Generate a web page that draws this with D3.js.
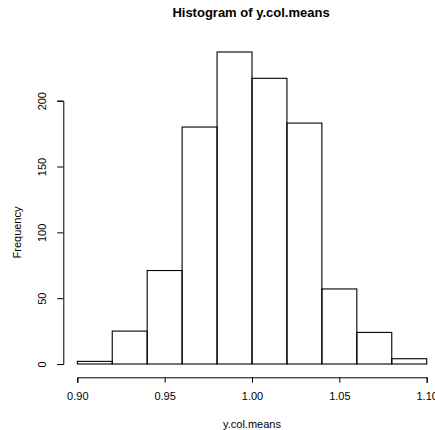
<!DOCTYPE html>
<html><head><meta charset="utf-8">
<script src="https://cdn.jsdelivr.net/npm/d3@7"></script>
<style>body{margin:0;background:#fff}svg{display:block}text{font-family:"Liberation Sans",Arial,sans-serif;fill:#000}</style>
</head><body>
<script>
const binStarts = [0.90,0.92,0.94,0.96,0.98,1.00,1.02,1.04,1.06,1.08];
const binWidth = 0.02;
const counts = [2,25,71,180,237,217,183,57,24,4];
const xTicks = [0.90,0.95,1.00,1.05,1.10];
const yTicks = [0,50,100,150,200];
const title = "Histogram of y.col.means";
const xLabel = "y.col.means";
const yLabel = "Frequency";

const W=435,H=430;
const svg=d3.select("body").append("svg").attr("width",W).attr("height",H);
const x=d3.scaleLinear().domain([0.90,1.10]).range([77.3,426.7]);
const y=d3.scaleLinear().domain([0,200]).range([364,100.7]);

svg.selectAll("rect.bar").data(binStarts).enter().append("rect")
  .attr("x",d=>x(d)).attr("width",d=>x(d+binWidth)-x(d))
  .attr("y",(d,i)=>y(counts[i])).attr("height",(d,i)=>y(0)-y(counts[i]))
  .attr("fill","none").attr("stroke","#000").attr("stroke-width",1.1);

const xa=svg.append("g").attr("transform","translate(0,377.3)")
  .call(d3.axisBottom(x).tickValues(xTicks).tickFormat(d3.format(".2f")).tickSize(5.5).tickPadding(7));
const ya=svg.append("g").attr("transform","translate(63.3,0)")
  .call(d3.axisLeft(y).tickValues(yTicks).tickSize(6).tickPadding(7));
[xa,ya].forEach(a=>{a.selectAll("path,line").attr("stroke","#000").attr("stroke-width",1);
  a.selectAll("text").attr("font-size",11).attr("font-family","Liberation Sans, Arial, sans-serif");});
ya.selectAll(".tick text").attr("text-anchor","middle").attr("dy",null).attr("x",null)
  .attr("transform",d=>`translate(-20,0) rotate(-90)`).attr("dominant-baseline","middle");
xa.selectAll(".tick text").attr("dy","0.9em");

svg.append("text").attr("x",251).attr("y",17).attr("text-anchor","middle")
  .attr("font-size",13).attr("font-weight","bold").text(title);
svg.append("text").attr("x",252).attr("y",428).attr("text-anchor","middle")
  .attr("font-size",11).text(xLabel);
svg.append("text").attr("transform","translate(21,232.5) rotate(-90)").attr("text-anchor","middle")
  .attr("font-size",11).text(yLabel);
</script>
</body></html>
